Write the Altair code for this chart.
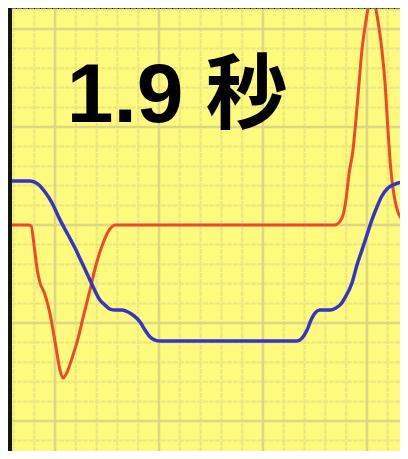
import altair as alt
import pandas as pd

# Red curve (grid units)
red_x = [-2.07, -1.30, -1.15, -1.01, -0.87, -0.72, -0.53, -0.34, -0.14, 0.05, 0.24, 0.38,
         0.58, 0.82, 1.11, 1.39, 1.68, 1.97, 2.31, 2.60, 2.93, 13.46, 13.80, 13.99, 14.13,
         14.33, 14.47, 14.62, 14.76, 14.90, 15.24, 15.58, 15.72, 15.87, 16.01,
         16.15, 16.30, 16.49, 16.73, 16.97]
red_y = [0.0, 0.0, -0.05, -1.02, -2.19, -2.96, -3.42, -4.08, -5.10, -6.28, -7.40, -7.81,
         -7.50, -6.79, -5.77, -4.54, -3.32, -2.04, -0.92, -0.26, 0.0, 0.0, 0.36, 1.28, 2.55,
         3.83, 5.36, 7.24, 8.93, 10.05, 11.6, 10.05, 8.93, 7.24, 4.85,
         2.81, 1.53, 0.66, 0.26, 0.15]

# Blue curve (grid units)
blue_x = [-2.07, -1.20, -0.82, -0.48, -0.14, 0.24, 0.63, 0.96, 1.30, 1.59, 1.88, 2.16, 2.40,
          2.64, 2.93, 3.22, 3.51, 3.80, 4.09, 4.33, 4.57, 4.81, 5.05, 11.63, 11.88, 12.12,
          12.31, 12.50, 12.74, 13.22, 13.51, 13.75, 13.94, 14.28, 14.52, 14.76, 15.00, 15.24,
          15.48, 15.72, 16.01, 16.35, 16.68, 16.97]
blue_y = [2.24, 2.24, 2.09, 1.68, 1.12, 0.26, -0.51, -1.17, -1.94, -2.60, -3.27, -3.83, -4.08,
          -4.29, -4.34, -4.34, -4.44, -4.64, -4.95, -5.36, -5.71, -5.87, -5.92, -5.92, -5.77,
          -5.36, -4.85, -4.49, -4.34, -4.34, -4.23, -4.03, -3.72, -2.96, -2.04, -1.28, -0.51,
          0.26, 0.92, 1.48, 1.89, 2.09, 2.19, 2.24]

# Grid positions
minor_x = list(range(-2, 17))
major_x = [0, 5, 10, 15]
minor_y = list(range(-11, 12))
major_y = [-10, -5, 0, 5, 10]

# Title text
label_num = "1.9"
label_unit = "秒"
label_num_pos = (3.37, 5.26)
label_unit_pos = (9.21, 5.26)

X_DOM = [-2.07, 16.59]
Y_DOM = [-11.53, 11.02]

xs = alt.Scale(domain=X_DOM, nice=False, zero=False)
ys = alt.Scale(domain=Y_DOM, nice=False, zero=False)

vminor = alt.Chart(pd.DataFrame({"x": minor_x})).mark_rule(
    color="#ebe67d", strokeWidth=2, strokeDash=[5, 1]
).encode(x=alt.X("x:Q", scale=xs, axis=None))
vmajor = alt.Chart(pd.DataFrame({"x": major_x})).mark_rule(
    color="#ddd687", strokeWidth=2.5
).encode(x=alt.X("x:Q", scale=xs, axis=None))
hminor = alt.Chart(pd.DataFrame({"y": minor_y})).mark_rule(
    color="#ebe67d", strokeWidth=2, strokeDash=[5, 1]
).encode(y=alt.Y("y:Q", scale=ys, axis=None))
hmajor = alt.Chart(pd.DataFrame({"y": major_y})).mark_rule(
    color="#ddd687", strokeWidth=2.5
).encode(y=alt.Y("y:Q", scale=ys, axis=None))

red = alt.Chart(pd.DataFrame({"x": red_x, "y": red_y})).mark_line(
    color="#ee4a2a", strokeWidth=3, interpolate="monotone", clip=True
).encode(x=alt.X("x:Q", scale=xs, axis=None), y=alt.Y("y:Q", scale=ys, axis=None))

blue = alt.Chart(pd.DataFrame({"x": blue_x, "y": blue_y})).mark_line(
    color="#3434c8", strokeWidth=3.5, interpolate="monotone", clip=True
).encode(x=alt.X("x:Q", scale=xs, axis=None), y=alt.Y("y:Q", scale=ys, axis=None))

t1 = alt.Chart(pd.DataFrame({"x": [label_num_pos[0]], "y": [label_num_pos[1]], "t": [label_num]})).mark_text(
    font="Liberation Sans", fontWeight="bold", fontSize=84, color="#000000",
    align="center", baseline="alphabetic"
).encode(x=alt.X("x:Q", scale=xs, axis=None), y=alt.Y("y:Q", scale=ys, axis=None), text="t:N")

t2 = alt.Chart(pd.DataFrame({"x": [label_unit_pos[0]], "y": [label_unit_pos[1]], "t": [label_unit]})).mark_text(
    font="Noto Sans CJK JP", fontWeight="bold", fontSize=82, color="#000000",
    align="center", baseline="alphabetic"
).encode(x=alt.X("x:Q", scale=xs, axis=None), y=alt.Y("y:Q", scale=ys, axis=None), text="t:N")

chart = alt.layer(vminor, hminor, vmajor, hmajor, red, blue, t1, t2).properties(
    width=388, height=442,
    padding={"left": 4, "top": 1, "right": 0, "bottom": 0},
    autosize=alt.AutoSizeParams(type="none"),
    background="#151515",
).configure_view(fill="#fdfa7d", stroke=None)

chart.save("out.html", embed_options={"renderer": "svg", "actions": False})
